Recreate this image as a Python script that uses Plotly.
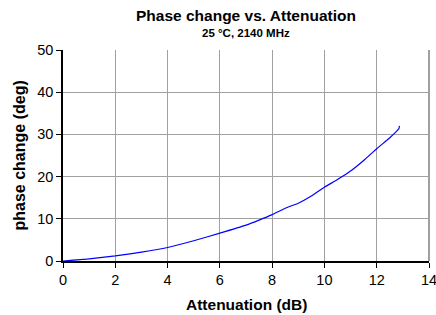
import plotly.graph_objects as go

attenuation_db = [0, 1, 2, 3, 4, 5, 6, 7, 7.5, 8, 8.5, 9, 9.5, 10, 10.5, 11, 11.5, 12, 12.5, 12.8, 12.85, 12.87]
phase_change_deg = [0, 0.5, 1.2, 2.1, 3.2, 4.8, 6.6, 8.5, 9.7, 11.0, 12.5, 13.7, 15.4, 17.5, 19.3, 21.3, 23.8, 26.6, 29.2, 31.0, 31.4, 32.0]

x_ticks = [0, 2, 4, 6, 8, 10, 12, 14]
y_ticks = [0, 10, 20, 30, 40, 50]

font = "Liberation Sans, Arial, sans-serif"

fig = go.Figure()
fig.add_trace(go.Scatter(x=attenuation_db, y=phase_change_deg, mode="lines",
                         line=dict(color="#0000ff", width=1.2, shape="spline", smoothing=0.5),
                         showlegend=False, cliponaxis=False))

fig.update_layout(
    width=436, height=315,
    margin=dict(l=63, r=7, t=50, b=54),
    paper_bgcolor="white", plot_bgcolor="white",
    font=dict(family=font, color="black", size=14),
    annotations=[
        dict(text="<b>Phase change vs. Attenuation</b>", x=0.5, y=1, xref="paper", yref="paper",
             xanchor="center", yanchor="middle", yshift=35, showarrow=False,
             font=dict(size=15.5, family=font)),
        dict(text="<b>25 °C, 2140 MHz</b>", x=0.5, y=1, xref="paper", yref="paper",
             xanchor="center", yanchor="middle", yshift=17, showarrow=False,
             font=dict(size=11.5, family=font)),
        dict(text="<b>Attenuation (dB)</b>", x=0.5, y=0, xref="paper", yref="paper",
             xanchor="center", yanchor="middle", yshift=-43, showarrow=False,
             font=dict(size=15.5, family=font)),
        dict(text="<b>phase change (deg)</b>", x=0, y=0.5, xref="paper", yref="paper",
             xanchor="center", yanchor="middle", xshift=-44, textangle=-90, showarrow=False,
             font=dict(size=16, family=font)),
    ],
    shapes=[
        dict(type="line", xref="paper", yref="paper", x0=1, x1=1, y0=0, y1=1,
             line=dict(color="#606060", width=1.2), layer="below"),
    ],
    xaxis=dict(range=[0, 14], tickvals=x_ticks, showgrid=True, gridcolor="#a0a0a0", gridwidth=1,
               showline=True, linecolor="black", linewidth=1.5, ticks="outside", ticklen=5,
               tickcolor="black", zeroline=False, automargin=False, ticklabeloverflow="allow",
               tickfont=dict(size=14.5, family=font)),
    yaxis=dict(range=[0, 50], tickvals=y_ticks, showgrid=True, gridcolor="#a0a0a0", gridwidth=1,
               showline=True, linecolor="black", linewidth=1.5, ticks="outside", ticklen=5,
               tickcolor="black", zeroline=False, automargin=False, ticklabeloverflow="allow",
               tickfont=dict(size=14.5, family=font)),
)

fig.write_html("out.html", config={"displayModeBar": False},
               post_script="document.body.style.margin='0';document.body.style.overflow='hidden';")
